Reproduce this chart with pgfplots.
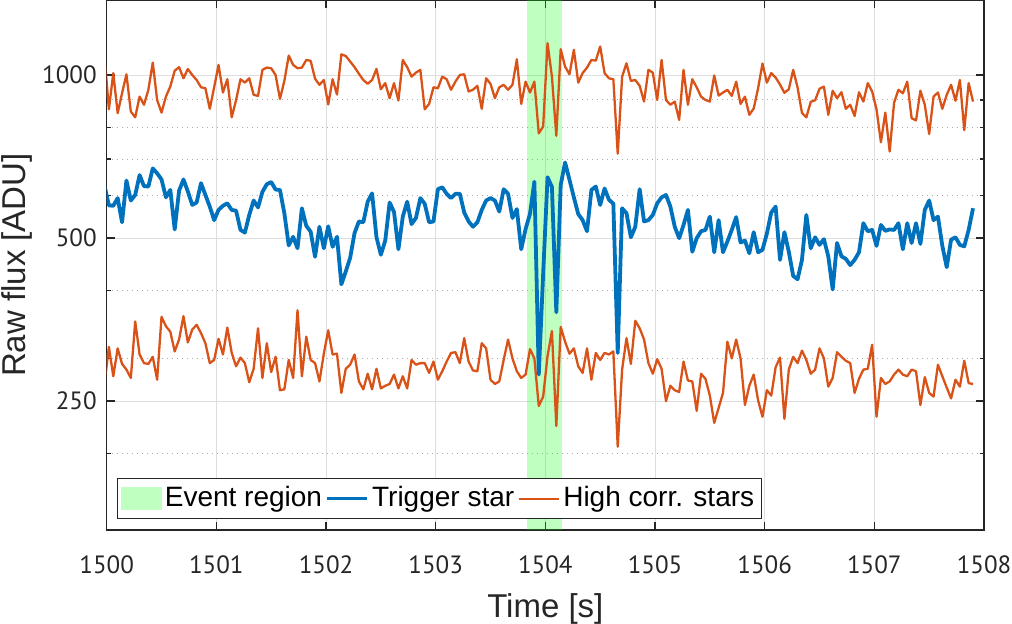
\documentclass[border=0pt]{standalone}
\usepackage{fontspec}
\setmainfont{Liberation Sans}
\newfontfamily\tickfont{PT Sans}
\usepackage{pgfplots}
\usepackage{pgfplotstable}
\pgfplotsset{compat=1.18}
\definecolor{mblue}{RGB}{0,114,189}
\definecolor{morange}{RGB}{217,83,25}
\definecolor{axcol}{RGB}{38,38,38}
\definecolor{gridcol}{RGB}{222,222,222}
\definecolor{mgridcol}{RGB}{170,170,170}
\definecolor{evgreen}{RGB}{191,255,191}

\pgfplotstableread{
t top trig low
1499.98 1090 625 269
1500.02 865 575 315
1500.06 1009 574 278
1500.10 851 593 313
1500.14 926 535 293
1500.18 1004 639 286
1500.22 857 587 276
1500.26 836 601 351
1500.30 913 654 305
1500.34 882 624 294
1500.38 940 623 293
1500.42 1055 673 302
1500.46 900 659 274
1500.50 853 642 358
1500.54 913 595 344
1500.58 953 614 336
1500.62 1019 519 309
1500.66 1035 612 325
1500.70 987 642 359
1500.74 1027 610 321
1500.78 1001 576 339
1500.82 980 582 346
1500.86 950 632 334
1500.90 946 601 320
1500.94 867 572 294
1500.98 950 540 298
1501.02 1045 564 326
1501.06 929 574 305
1501.10 983 580 342
1501.14 836 564 307
1501.18 900 562 290
1501.22 983 518 301
1501.26 969 512 294
1501.30 987 552 271
1501.34 920 587 287
1501.38 916 570 341
1501.42 1023 609 276
1501.46 1033 629 320
1501.50 1030 635 283
1501.54 1001 615 302
1501.58 904 614 262
1501.62 976 556 263
1501.66 1087 485 298
1501.70 1045 503 276
1501.74 1030 479 368
1501.78 1033 568 278
1501.82 1067 527 329
1501.86 1063 514 298
1501.90 985 462 294
1501.94 960 525 272
1501.98 980 479 306
1502.02 883 526 338
1502.06 983 482 305
1502.10 921 503 306
1502.14 1093 411 259
1502.18 1085 434 287
1502.22 1060 460 292
1502.26 1035 511 305
1502.30 1006 537 272
1502.34 980 535 263
1502.38 964 584 281
1502.42 980 605 263
1502.46 1027 502 287
1502.50 942 466 264
1502.54 967 495 267
1502.58 907 582 269
1502.62 967 559 280
1502.66 898 477 264
1502.70 1067 548 278
1502.74 1035 584 264
1502.78 994 531 298
1502.82 1011 545 292
1502.86 1023 593 294
1502.90 865 579 294
1502.94 885 535 282
1502.98 950 537 296
1503.02 946 616 274
1503.06 994 621 284
1503.10 983 604 296
1503.14 940 593 307
1503.18 973 604 308
1503.22 1001 604 294
1503.26 1004 558 327
1503.30 933 537 296
1503.34 940 525 285
1503.38 956 535 284
1503.42 867 564 320
1503.46 987 587 313
1503.50 964 593 274
1503.54 907 587 269
1503.58 950 560 272
1503.62 960 616 298
1503.66 940 604 325
1503.70 960 545 300
1503.74 1070 566 284
1503.78 885 477 276
1503.82 973 520 280
1503.86 929 555 312
1503.90 973 636 300
1503.94 781 280 245
1503.98 804 430 255
1504.02 1146 648 303
1504.06 994 622 337
1504.10 773 365 225
1504.14 1117 627 343
1504.18 1037 690 322
1504.22 1004 641 306
1504.26 1114 595 313
1504.30 969 554 290
1504.34 1009 540 282
1504.38 1033 515 313
1504.42 1067 614 274
1504.46 1064 623 307
1504.50 1130 576 298
1504.54 1009 618 307
1504.58 987 589 305
1504.62 983 579 309
1504.66 716 307 206
1504.70 994 568 286
1504.74 1052 556 327
1504.78 976 502 293
1504.82 980 525 352
1504.86 956 616 341
1504.90 894 537 325
1504.94 1023 540 294
1504.98 1011 552 281
1505.02 900 580 299
1505.06 1067 595 287
1505.10 900 601 250
1505.14 882 572 267
1505.18 894 525 262
1505.22 827 500 260
1505.26 1023 529 296
1505.30 882 564 273
1505.34 983 472 272
1505.38 950 500 240
1505.42 913 515 281
1505.46 900 518 275
1505.50 894 548 256
1505.54 999 471 228
1505.58 917 540 243
1505.62 929 471 259
1505.66 940 493 322
1505.70 916 518 300
1505.74 973 547 325
1505.78 885 491 300
1505.82 913 495 246
1505.86 845 469 267
1505.90 868 513 280
1505.94 946 471 251
1505.98 1051 476 234
1506.02 969 510 262
1506.06 1009 558 256
1506.10 990 572 289
1506.14 961 456 301
1506.18 928 513 232
1506.22 942 472 286
1506.26 1023 426 302
1506.30 949 420 294
1506.34 852 456 310
1506.38 836 552 298
1506.42 893 479 281
1506.46 899 502 286
1506.50 944 486 313
1506.54 953 498 300
1506.58 845 463 266
1506.62 936 402 276
1506.66 907 490 308
1506.70 930 463 302
1506.74 867 458 297
1506.78 882 446 294
1506.82 841 456 259
1506.86 930 471 275
1506.90 894 533 286
1506.94 967 515 287
1506.98 933 518 318
1507.02 865 484 234
1507.06 752 529 276
1507.10 853 516 269
1507.14 723 519 272
1507.18 890 518 280
1507.22 940 533 286
1507.26 926 477 280
1507.30 973 533 278
1507.34 833 490 286
1507.38 825 533 284
1507.42 936 488 246
1507.46 882 564 277
1507.50 779 587 259
1507.54 913 540 255
1507.58 929 548 292
1507.62 867 484 278
1507.66 920 442 265
1507.70 960 497 253
1507.74 897 502 274
1507.78 980 486 266
1507.82 792 483 297
1507.86 967 518 270
1507.90 894 568 269
}\fluxdata

\pgfplotstableread{
t v
1503.835 100
1504.150 100
1504.150 2000
1503.835 2000
}\eventdata

\begin{document}
\begin{tikzpicture}
\begin{axis}[
  at={(0pt,0pt)}, anchor=south west,
  scale only axis, width=438.65pt, height=265pt,
  xmin=1500, xmax=1508,
  ymode=log, ymin=144.6, ymax=1377,
  xtick={1500,1501,1502,1503,1504,1505,1506,1507,1508},
  xticklabels={1500,1501,1502,1503,1504,1505,1506,1507,1508},
  ytick={250,500,1000}, yticklabels={250,500,1000},
  minor ytick={200,300,400,600,700,800,900},
  xminorgrids=false,
  xmajorgrids=true, ymajorgrids=true, yminorgrids=true,
  major grid style={draw=gridcol, line width=0.5pt},
  minor grid style={draw=mgridcol, line width=0.5pt, dash pattern=on 0.5pt off 2pt},
  axis line style={draw=axcol, line width=0.75pt},
  tick style={draw=axcol, line width=0.75pt},
  major tick length=4pt, minor tick length=2pt,
  tick align=inside,
  ticklabel style={font=\tickfont\fontsize{12.5}{14}\selectfont, text=axcol},
  xticklabel style={yshift=-9.2pt},
  yticklabel style={xshift=-1.5pt},
  xlabel={Time [s]}, ylabel={Raw flux [ADU]},
  label style={font=\fontsize{16.5}{19}\selectfont, text=axcol},
  xlabel style={at={(axis description cs:0.5,-0.166)}, anchor=base},
  ylabel style={at={(axis description cs:-0.092,0.5)}, anchor=base},
  legend columns=-1,
  legend style={at={(0,0)}, anchor=south west, xshift=5.3pt, yshift=5.35pt,
    draw=axcol, line width=0.5pt, fill=white,
    inner xsep=1.85pt, inner ysep=1.35pt,
    font=\fontsize{14}{16}\selectfont,
    nodes={inner xsep=1.7pt, inner ysep=2pt, text height=10.3pt, text depth=3pt},
    /tikz/every even column/.append style={column sep=0pt}},
]
\addplot[fill=green, fill opacity=0.25, draw=none,
  legend image code/.code={\fill[evgreen, fill opacity=1, draw=none] (0pt,-5.85pt) rectangle (20pt,5.85pt);}]
  table[x=t, y=v] {\eventdata} -- cycle;
\addlegendentry{Event region}
\addplot[morange, line width=1.15pt, line join=round, forget plot] table[x=t, y=top] {\fluxdata};
\addplot[morange, line width=1.15pt, line join=round, forget plot] table[x=t, y=low] {\fluxdata};
\addplot[mblue, line width=1.9pt, line join=round,
  legend image code/.code={\draw[mblue, line width=1.6pt] (0pt,0pt) -- (20pt,0pt);}]
  table[x=t, y=trig] {\fluxdata};
\addlegendentry{Trigger star}
\addlegendimage{morange, line width=1.15pt, legend image code/.code={\draw[morange, line width=1.15pt] (0pt,0pt) -- (20pt,0pt);}}
\addlegendentry{High corr. stars}
\end{axis}
\pgfresetboundingbox
\path[use as bounding box] (-53.35pt,-46.5pt) rectangle (452.65pt,265pt);
\end{tikzpicture}
\end{document}
